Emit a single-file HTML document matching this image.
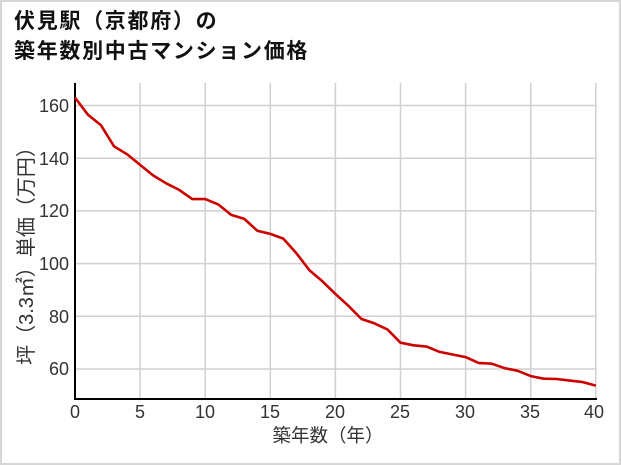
<!DOCTYPE html>
<html><head><meta charset="utf-8"><style>
html,body{margin:0;padding:0;background:#fff}
body{width:621px;height:465px;overflow:hidden;position:relative}
.frame{position:absolute;left:0;top:0;width:617px;height:461px;border:2px solid #d6d6d6}
.t{position:absolute;left:14px;font-family:"Liberation Sans","Noto Sans CJK JP",sans-serif;font-weight:bold;font-size:21px;letter-spacing:1.7px;color:#111;line-height:1}
svg{position:absolute;left:0;top:0}
svg text{font-family:"Liberation Sans","Noto Sans CJK JP",sans-serif;fill:#333}
svg .n{font-family:"Liberation Sans Narrow","Liberation Sans",sans-serif}
</style></head><body>
<div class="frame"></div>
<div class="t" style="top:11px">伏見駅（京都府）の</div>
<div class="t" style="top:41px">築年数別中古マンション価格</div>
<svg width="621" height="465" viewBox="0 0 621 465">
<g stroke="#d0d0d0" stroke-width="1.5">
<line x1="140.1" y1="83" x2="140.1" y2="399"/><line x1="205.2" y1="83" x2="205.2" y2="399"/>
<line x1="270.3" y1="83" x2="270.3" y2="399"/><line x1="335.4" y1="83" x2="335.4" y2="399"/>
<line x1="400.5" y1="83" x2="400.5" y2="399"/><line x1="465.6" y1="83" x2="465.6" y2="399"/>
<line x1="530.7" y1="83" x2="530.7" y2="399"/><line x1="595.8" y1="83" x2="595.8" y2="399"/>
<line x1="75" y1="105.5" x2="596" y2="105.5"/><line x1="75" y1="158.2" x2="596" y2="158.2"/>
<line x1="75" y1="210.9" x2="596" y2="210.9"/><line x1="75" y1="263.6" x2="596" y2="263.6"/>
<line x1="75" y1="316.3" x2="596" y2="316.3"/><line x1="75" y1="369" x2="596" y2="369"/>
</g>
<line x1="75" y1="83" x2="75" y2="400" stroke="#000" stroke-width="2"/>
<line x1="74" y1="399" x2="597" y2="399" stroke="#000" stroke-width="2"/>
<polyline fill="none" stroke="#cc0000" stroke-width="2.6" stroke-linejoin="round" points="
75.0,97.6 88.0,114.8 101.0,125.3 114.1,146.4 127.1,154.3 140.1,164.9 153.1,175.4 166.1,183.3 179.2,189.9 192.2,199.1 205.2,199.1 218.2,204.4 231.2,214.9 244.3,218.9 257.3,230.7 270.3,233.9 283.3,238.6 296.3,253.1 309.4,270.2 322.4,281.3 335.4,293.9 348.4,305.8 361.5,319.0 374.5,323.4 387.5,329.5 400.5,342.7 413.5,345.3 426.6,346.6 439.6,351.9 452.6,354.5 465.6,357.1 478.6,362.9 491.7,363.7 504.7,368.2 517.7,370.8 530.7,376.1 543.7,378.7 556.8,379.0 569.8,380.6 582.8,382.1 595.8,385.6"/>
<g class="n" font-size="18" text-anchor="end">
<text class="n" x="69" y="112">160</text><text class="n" x="69" y="165">140</text><text class="n" x="69" y="217">120</text>
<text class="n" x="69" y="270">100</text><text class="n" x="69" y="323">80</text><text class="n" x="69" y="375">60</text>
</g>
<g font-size="18" text-anchor="middle">
<text class="n" x="75" y="418">0</text><text class="n" x="140" y="418">5</text><text class="n" x="205" y="418">10</text>
<text class="n" x="270" y="418">15</text><text class="n" x="335" y="418">20</text><text class="n" x="400" y="418">25</text>
<text class="n" x="465" y="418">30</text><text class="n" x="530" y="418">35</text><text class="n" x="594" y="418">40</text>
</g>
<text x="328" y="442" font-size="18.5" text-anchor="middle">築年数（年）</text>
<text transform="translate(33,251) rotate(-90)" font-size="20" text-anchor="middle">坪（3.3㎡）単価（万円）</text>
</svg>
</body></html>
